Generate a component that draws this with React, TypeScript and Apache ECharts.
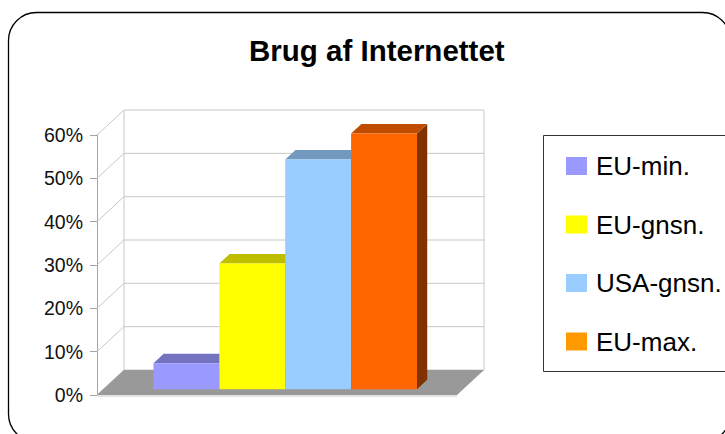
import React, { useEffect, useRef } from "react";
import * as echarts from "echarts";

const title = "Brug af Internettet";
const seriesNames = ["EU-min.", "EU-gnsn.", "USA-gnsn.", "EU-max."];
const seriesValues = [6, 29, 53, 59];
const categories = [""];
const yTicks = [0, 10, 20, 30, 40, 50, 60];

const frontColors = ["#9999FF", "#FFFF00", "#99CCFF", "#FF6600"];
const topColors = ["#7373BF", "#BFBF00", "#7399BF", "#BF4C00"];
const sideColors = ["#4D4D80", "#808000", "#4D6680", "#7F3300"];
const legendColors = ["#9999FF", "#FFFF00", "#99CCFF", "#FF9900"];

const FONT = "'Liberation Sans', Arial, sans-serif";
// depth of the 3D box (back wall offset from front plane)
const DX = 27;
const DY = -25;
const FRONT_FRAC = 0.23;
const BAR_DEPTH_FRAC = 0.38;
const BAR_W_FRAC = 0.183;
const BAR_SHIFT = 2;

export default function App() {
  const ref = useRef<HTMLDivElement>(null);

  useEffect(() => {
    if (!ref.current) return;
    const chart = echarts.init(ref.current, null, { renderer: "svg" });

    const frameSeries: any = {
      type: "custom",
      name: "__frame",
      silent: true,
      z: 1,
      data: [[0, 0]],
      renderItem: (params: any, api: any) => {
        const cs = params.coordSys;
        const x0 = cs.x;
        const x1 = cs.x + cs.width;
        const children: any[] = [];
        const gridColor = "#C8C8C8";
        const yTop = api.coord([0, yTicks[yTicks.length - 1]])[1];
        const yZero = api.coord([0, 0])[1];
        yTicks.forEach((v) => {
          const y = api.coord([0, v])[1];
          children.push({
            type: "line",
            shape: { x1: x0, y1: y, x2: x0 + DX, y2: y + DY },
            style: { stroke: gridColor, lineWidth: 1 },
          });
          children.push({
            type: "line",
            shape: { x1: x0 + DX, y1: y + DY, x2: x1 + DX, y2: y + DY },
            style: { stroke: gridColor, lineWidth: 1 },
          });
        });
        children.push({
          type: "line",
          shape: { x1: x0 + DX, y1: yTop + DY, x2: x0 + DX, y2: yZero + DY },
          style: { stroke: gridColor, lineWidth: 1 },
        });
        children.push({
          type: "line",
          shape: { x1: x1 + DX, y1: yTop + DY, x2: x1 + DX, y2: yZero + DY },
          style: { stroke: gridColor, lineWidth: 1 },
        });
        children.push({
          type: "polygon",
          shape: {
            points: [
              [x0, yZero],
              [x1, yZero],
              [x1 + DX, yZero + DY],
              [x0 + DX, yZero + DY],
            ],
          },
          style: { fill: "#999999" },
        });
        children.push({
          type: "line",
          shape: { x1: x0, y1: yZero + 1, x2: x1, y2: yZero + 1 },
          style: { stroke: "#C8C8C8", lineWidth: 1 },
        });
        return { type: "group", children };
      },
    };

    const barSeries = seriesNames.map((name, i) => ({
      type: "custom",
      name,
      z: 2 + i,
      itemStyle: { color: legendColors[i] },
      data: [[0, seriesValues[i]]],
      renderItem: (params: any, api: any) => {
        const band = api.size([1, 0])[0];
        const bw = band * BAR_W_FRAC;
        const center = api.coord([api.value(0), 0])[0];
        const fdx = DX * FRONT_FRAC;
        const fdy = DY * FRONT_FRAC;
        const bdx = DX * BAR_DEPTH_FRAC;
        const bdy = DY * BAR_DEPTH_FRAC;
        const xl = center - 2 * bw + i * bw + fdx + BAR_SHIFT;
        const xr = xl + bw;
        const yT = api.coord([api.value(0), api.value(1)])[1] + fdy;
        const yB = api.coord([api.value(0), 0])[1] + fdy;
        return {
          type: "group",
          children: [
            {
              type: "polygon",
              shape: {
                points: [
                  [xr, yT],
                  [xr + bdx, yT + bdy],
                  [xr + bdx, yB + bdy],
                  [xr, yB],
                ],
              },
              style: { fill: sideColors[i] },
            },
            {
              type: "polygon",
              shape: {
                points: [
                  [xl, yT],
                  [xr, yT],
                  [xr + bdx, yT + bdy],
                  [xl + bdx, yT + bdy],
                ],
              },
              style: { fill: topColors[i] },
            },
            {
              type: "rect",
              shape: { x: xl, y: yT, width: bw, height: yB - yT },
              style: { fill: frontColors[i] },
            },
          ],
        };
      },
    }));

    chart.setOption({
      animation: false,
      backgroundColor: "#FFFFFF",
      title: {
        text: title,
        left: 249,
        top: 35,
        padding: 0,
        textStyle: {
          fontFamily: FONT,
          fontSize: 29.5,
          fontWeight: "bold",
          color: "#000000",
        },
      },
      legend: {
        orient: "vertical",
        left: 566,
        top: 151,
        padding: 0,
        itemWidth: 21,
        itemHeight: 18,
        itemGap: 28.5,
        icon: "rect",
        selectedMode: false,
        data: seriesNames,
        textStyle: {
          fontFamily: FONT,
          fontSize: 26,
          lineHeight: 30,
          color: "#000000",
          padding: [0, 0, 0, 4],
        },
      },
      grid: { left: 97, right: 268, top: 135, bottom: 39, containLabel: false },
      xAxis: {
        type: "category",
        data: categories,
        axisLine: { show: false },
        axisTick: { show: false },
        axisLabel: { show: false },
        splitLine: { show: false },
      },
      yAxis: {
        type: "value",
        min: 0,
        max: 60,
        interval: 10,
        axisLine: { show: true, lineStyle: { color: "#A6A6A6", width: 1 } },
        axisTick: { show: true, length: 7, lineStyle: { color: "#A6A6A6" } },
        splitLine: { show: false },
        axisLabel: {
          formatter: "{value}%",
          fontFamily: FONT,
          fontSize: 19.5,
          color: "#111111",
          margin: 14,
        },
      },
      graphic: [
        {
          type: "rect",
          silent: true,
          shape: { x: 8.5, y: 12.5, width: 722, height: 429.5, r: 28 },
          style: { fill: "none", stroke: "#000000", lineWidth: 1.3 },
          z: 100,
        },
        {
          type: "rect",
          silent: true,
          shape: { x: 543.5, y: 135.5, width: 200, height: 236 },
          style: { fill: "none", stroke: "#333333", lineWidth: 1 },
          z: 100,
        },
      ],
      series: [frameSeries, ...barSeries],
    });

    return () => chart.dispose();
  }, []);

  return (
    <div
      ref={ref}
      style={{ position: "fixed", left: 0, top: 0, width: 725, height: 434 }}
    />
  );
}
